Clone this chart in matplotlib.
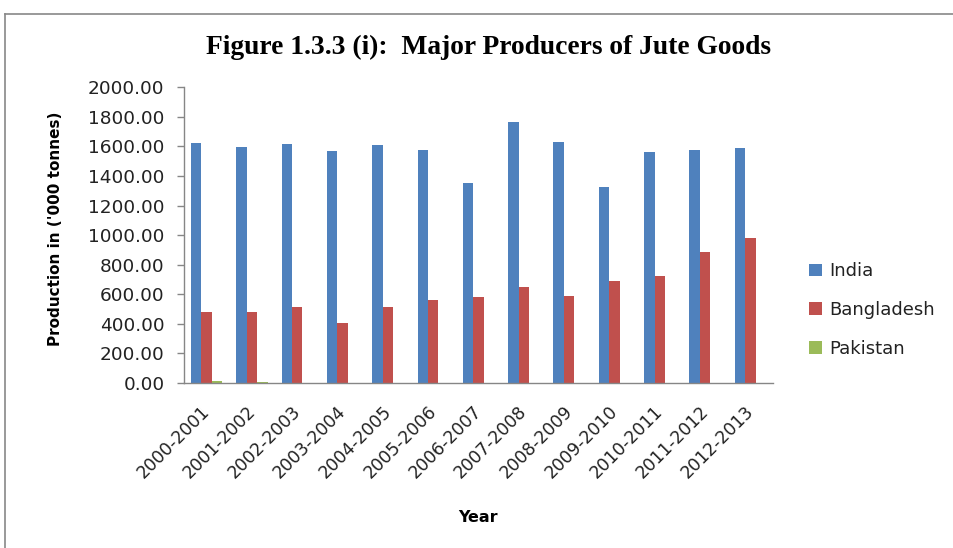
import matplotlib
matplotlib.use("Agg")
import matplotlib.pyplot as plt
import numpy as np
from matplotlib.lines import Line2D
from matplotlib.ticker import FormatStrFormatter
from matplotlib.transforms import ScaledTranslation

years = ["2000-2001", "2001-2002", "2002-2003", "2003-2004", "2004-2005",
         "2005-2006", "2006-2007", "2007-2008", "2008-2009", "2009-2010",
         "2010-2011", "2011-2012", "2012-2013"]
india = [1625, 1598, 1618, 1569, 1611, 1575, 1354, 1767, 1632, 1327, 1562, 1575, 1589]
bangladesh = [483, 477, 517, 404, 517, 560, 580, 646, 589, 688, 724, 885, 978]
pakistan = [12, 10, 0, 0, 0, 0, 0, 0, 0, 0, 0, 0, 0]
series_names = ["India", "Bangladesh", "Pakistan"]
colors = ["#4F81BD", "#C0504D", "#9BBB59"]
yticks = [0, 200, 400, 600, 800, 1000, 1200, 1400, 1600, 1800, 2000]

plt.rcParams['font.family'] = ['DejaVu Sans']

fig = plt.figure(figsize=(9.54, 5.48), dpi=100)
ax = fig.add_axes([184/954, 1-383/548, (773-184)/954, (383-87.3)/548])

x = np.arange(len(years))
w = 0.23
for i, (vals, name, c) in enumerate(zip([india, bangladesh, pakistan], series_names, colors)):
    ax.bar(x + (i-1)*w, vals, width=w, color=c, label=name, linewidth=0)

ax.set_xlim(-0.5, len(years)-0.5)
ax.set_ylim(0, 2000)
ax.set_yticks(yticks)
ax.yaxis.set_major_formatter(FormatStrFormatter('%.2f'))
ax.set_xticks(x)
ax.tick_params(axis='x', length=0, pad=12)
ax.tick_params(axis='y', length=5, width=1, color='#868686', labelsize=13.3, pad=9, labelcolor='#222222')
ax.set_xticklabels(years, rotation=45, ha='right', va='top', fontsize=12.5, color='#222222')
offset = ScaledTranslation(0.07, -0.03, fig.dpi_scale_trans)
for lbl in ax.get_xticklabels():
    lbl.set_transform(lbl.get_transform() + offset)

for s in ['top', 'right']:
    ax.spines[s].set_visible(False)
for s in ['left', 'bottom']:
    ax.spines[s].set_color('#868686')
    ax.spines[s].set_linewidth(1)

ax.set_ylabel("Production in ('000 tonnes)", fontsize=11, fontweight='bold')
ax.yaxis.set_label_coords((63 - 184)/(773-184), (383-229)/(383-87.3))

fig.text(478/954, 1-517/548, "Year", fontsize=11.5, fontweight='bold', ha='center', va='center')

fig.text(489/954, 1-47/548, "Figure 1.3.3 (i):  Major Producers of Jute Goods",
         family='Liberation Serif', fontweight='bold', fontsize=19.8, ha='center', va='center')

leg = ax.legend(loc='center left', bbox_to_anchor=(793/954, 1-310/548), bbox_transform=fig.transFigure,
                frameon=False, fontsize=13, handlelength=0.7, handleheight=0.7,
                handletextpad=0.4, labelspacing=1.15)
for t in leg.get_texts():
    t.set_color('#222222')

# outer frame of the pasted chart
fig.add_artist(Line2D([5/954, 1], [1-14/548, 1-14/548], transform=fig.transFigure, color='#888888', lw=1.2))
fig.add_artist(Line2D([5/954, 5/954], [0, 1-14/548], transform=fig.transFigure, color='#888888', lw=1.2))

fig.savefig("out.png", dpi=100)
